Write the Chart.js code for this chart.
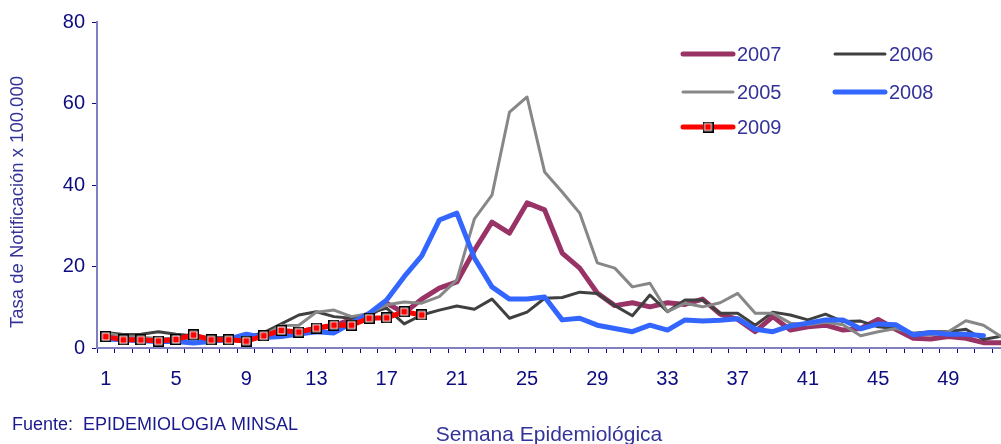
<!DOCTYPE html>
<html><head><meta charset="utf-8">
<script src="https://cdn.jsdelivr.net/npm/chart.js@4/dist/chart.umd.min.js"></script>
<style>html,body{margin:0;padding:0;overflow:hidden;background:#fff}#wrap{position:relative;width:1001px;height:444px}canvas{display:block}</style>
</head><body><div id="wrap"><canvas id="c"></canvas></div>
<script>
const weeks = ['1','2','3','4','5','6','7','8','9','10','11','12','13','14','15','16','17','18','19','20','21','22','23','24','25','26','27','28','29','30','31','32','33','34','35','36','37','38','39','40','41','42','43','44','45','46','47','48','49','50','51','52'];
const tickLabels = ['1','5','9','13','17','21','25','29','33','37','41','45','49'];
const yTicks = [0,20,40,60,80];
const s2007 = [2.8,2.2,2.2,1.8,2.0,2.6,2.0,2.0,2.0,3.0, 4.0,4.0,4.8,5.5,7.0,8.0,11.0,8.6,12.0,14.7, 16.2,24.0,30.9,28.2,35.6,33.9,23.3,19.6,13.5,10.4, 11.1,10.1,11.1,10.7,12.0,8.3,7.0,4.0,7.7,4.4, 5.2,5.6,4.4,4.8,7.0,4.6,2.4,2.2,2.8,2.4, 1.3,1.3];
const s2006 = [3.8,3.3,3.4,4.0,3.4,3.0,2.5,2.6,2.6,3.8, 5.9,8.1,8.9,7.7,7.3,8.5,9.8,5.9,8.1,9.3, 10.3,9.5,12.0,7.3,8.8,12.2,12.4,13.7,13.4,10.4, 7.9,13.0,8.9,11.8,11.8,8.5,8.5,5.6,8.8,8.1, 6.9,8.3,6.5,6.6,5.2,4.8,3.6,4.0,4.0,4.6, 2.1,2.9];
const s2005 = [3.7,2.8,2.6,2.4,2.3,2.0,1.8,2.0,2.2,3.0, 5.5,5.6,8.8,9.3,7.7,8.5,10.6,11.3,11.0,12.6, 16.7,31.7,37.5,57.9,61.6,43.2,38.3,33.1,20.9,19.6, 15.0,15.9,8.9,11.0,10.1,11.1,13.4,8.5,8.5,6.1, 5.7,6.3,5.7,3.0,4.0,4.8,3.6,3.2,4.0,6.7, 5.6,2.8];
const s2008 = [2.2,2.0,1.8,1.6,1.6,1.2,1.6,2.2,3.4,2.6, 2.8,3.4,4.0,3.7,6.1,8.5,11.8,17.5,22.6,31.4, 33.1,22.1,15.0,12.0,12.0,12.5,6.9,7.3,5.6,4.8, 4.0,5.6,4.4,6.9,6.6,6.8,7.2,4.6,4.0,5.4, 6.1,6.9,6.9,4.7,5.9,5.7,3.2,3.8,3.4,3.4, 3.0,null];
const s2009 = [2.8,2.0,2.0,1.7,2.1,3.2,2.0,2.0,1.7,3.0, 4.3,3.9,4.9,5.6,5.6,7.3,7.4,8.9,8.1];

const FONT = '"Liberation Sans", Arial, sans-serif';
const NAVY = '#0c0c80';
const TXT = '#333399';

// marker image for 2009
const mk = document.createElement('canvas');
mk.width = 11; mk.height = 11;
(function(){const c = mk.getContext('2d');
 c.fillStyle='#000'; c.fillRect(0,0,11,11);
 c.fillStyle='#fff'; c.fillRect(1.5,1.5,8,8);
 c.fillStyle='#ff0000'; c.fillRect(2.5,2.5,6,6);})();

const legendItems = [
  {ds:0,col:0,row:0},{ds:1,col:1,row:0},
  {ds:2,col:0,row:1},{ds:3,col:1,row:1},
  {ds:4,col:0,row:2}
];
const extras = {
  id:'extras',
  afterDraw(chart){
    const ctx = chart.ctx;
    ctx.save();
    ctx.fillStyle = TXT;
    ctx.font = '18.5px ' + FONT;
    ctx.textAlign='center'; ctx.textBaseline='middle';
    ctx.translate(18, 202); ctx.rotate(-Math.PI/2);
    ctx.fillText('Tasa de Notificación x 100.000',0,0);
    ctx.restore();
    ctx.save();
    ctx.fillStyle = '#1a1a8c';
    ctx.font = '18px ' + FONT;
    ctx.textAlign='left'; ctx.textBaseline='middle';
    ctx.fillText('Fuente:  EPIDEMIOLOGIA MINSAL', 12, 425);
    // legend
    const colX = [683, 835], rowY = [54, 92, 127];
    legendItems.forEach(it=>{
      const d = chart.data.datasets[it.ds];
      const x0 = colX[it.col], y = rowY[it.row];
      ctx.strokeStyle = d.borderColor; ctx.lineWidth = d.borderWidth; ctx.lineCap='round';
      ctx.beginPath(); ctx.moveTo(x0, y); ctx.lineTo(x0+50, y); ctx.stroke();
      if (d.pointStyle && typeof d.pointStyle !== 'string') ctx.drawImage(d.pointStyle, x0+25-5.5, y-5.5);
      ctx.fillStyle = TXT; ctx.font = '20px ' + FONT;
      ctx.fillText(d.label, x0+54, y+1);
    });
    ctx.restore();
  }
};

function ds(label, data, color, width, order, extra){
  return Object.assign({label, data, borderColor:color, backgroundColor:color, borderWidth:width,
    tension:0, pointRadius:0, pointHoverRadius:0, borderJoinStyle:'round', borderCapStyle:'round', order, fill:false}, extra||{});
}

new Chart(document.getElementById('c'), {
  type:'line',
  data:{ labels:weeks, datasets:[
    ds('2007', s2007, '#993366', 5, 4),
    ds('2006', s2006, '#404040', 3, 3),
    ds('2005', s2005, '#878787', 3, 2),
    ds('2008', s2008, '#3366ff', 5, 1),
    ds('2009', s2009, '#ff0000', 5, 0, {pointStyle: mk, pointRadius:5.5, pointHoverRadius:5.5})
  ]},
  options:{
    responsive:true, maintainAspectRatio:false, animation:false,
    layout:{autoPadding:false, padding:{top:22,right:0,left:0,bottom:0}},
    plugins:{legend:{display:false}, tooltip:{enabled:false}},
    scales:{
      x:{ type:'linear', min:0.5, max:52,
        afterBuildTicks(s){ s.ticks = weeks.flatMap(w => [{value:+w - 0.5},{value:+w}]); },
        grid:{display:true, drawOnChartArea:false, drawTicks:true, tickLength:5, lineWidth:1,
          color: c => (c.tick && Number.isInteger(c.tick.value)) ? 'rgba(0,0,0,0)' : NAVY},
        border:{display:true, color:'#8080c0', width:2},
        ticks:{autoSkip:false, maxRotation:0, minRotation:0, padding:14, color:NAVY, font:{size:20, family:FONT},
          callback(v){ const l = String(v); return tickLabels.includes(l) ? l : ''; }},
        title:{display:true, text:'Semana Epidemiológica', color:TXT, font:{size:21, family:FONT, lineHeight:0.8}, padding:{top:0,bottom:0}},
        afterFit(s){ s.height = 96; s.paddingLeft = 0; s.paddingRight = 0; }
      },
      y:{ min:0, max:80,
        afterBuildTicks(s){ s.ticks = yTicks.map(v=>({value:v})); },
        grid:{display:true, drawOnChartArea:false, drawTicks:true, tickLength:5, color:NAVY},
        border:{display:true, color:'#8080c0', width:2},
        ticks:{padding:7, color:NAVY, font:{size:20, family:FONT}},
        afterFit(s){ s.width = 97; s.paddingTop = 0; s.paddingBottom = 0; }
      }
    }
  },
  plugins:[extras]
});
</script>
</body></html>
